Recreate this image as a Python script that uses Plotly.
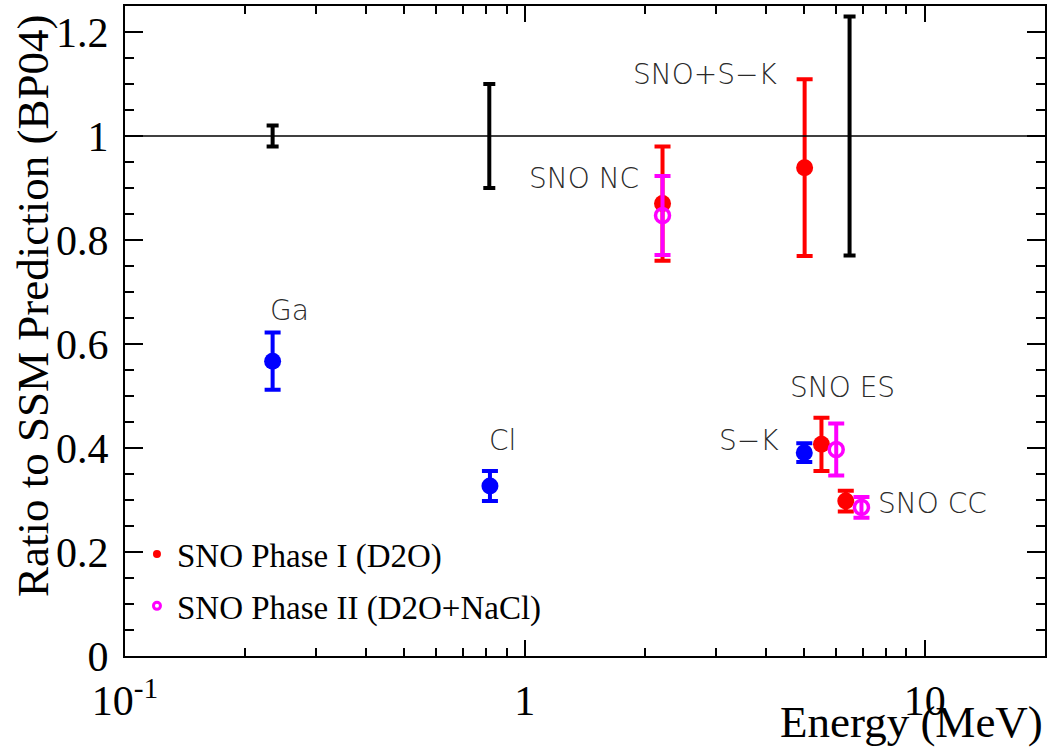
import math
import plotly.graph_objects as go

# ---- data ----
# Black: SSM prediction uncertainty bands (ratio = 1)
ssm_x = [0.234, 0.815, 6.49]
ssm_y = [1.0, 1.0, 1.0]
ssm_err = [0.02, 0.10, 0.23]

# Blue: other experiments (Ga, Cl, S-K)
oth_x = [0.234, 0.818, 5.0]
oth_y = [0.567, 0.327, 0.391]
oth_err = [0.055, 0.029, 0.018]

# Red: SNO Phase I (D2O): NC, SNO+S-K, ES, CC
p1_x = [2.21, 5.01, 5.52, 6.35]
p1_y = [0.870, 0.939, 0.407, 0.298]
p1_err = [0.110, 0.170, 0.051, 0.020]

# Magenta: SNO Phase II (D2O+NaCl): NC, ES, CC
p2_x = [2.21, 6.01, 6.95]
p2_y = [0.847, 0.397, 0.286]
p2_err = [0.076, 0.050, 0.020]

labels = ["Ga", "Cl", "SNO NC", "SNO+S\u2212K", "SNO ES", "S\u2212K", "SNO CC"]
label_x = [0.2586, 0.881, 1.404, 2.818, 6.237, 3.64, 10.45]
label_y = [0.665, 0.415, 0.919, 1.119, 0.517, 0.415, 0.294]

legend_names = ["SNO Phase I (D2O)", "SNO Phase II (D2O+NaCl)"]

x_ticks = [0.1, 1, 10]
x_ticktext = ["10<sup>-1</sup>", "1", "10"]

# ---- figure ----
fig = go.Figure()

fig.add_trace(go.Scatter(
    x=ssm_x, y=ssm_y, mode="markers",
    marker=dict(size=1, color="rgba(0,0,0,0)"),
    error_y=dict(type="data", array=ssm_err, color="black", thickness=4, width=6),
    showlegend=False, hoverinfo="skip"))

fig.add_trace(go.Scatter(
    x=oth_x, y=oth_y, mode="markers",
    marker=dict(size=17, color="#0000ff"),
    error_y=dict(type="data", array=oth_err, color="#0000ff", thickness=4, width=8),
    showlegend=False))

fig.add_trace(go.Scatter(
    x=p1_x, y=p1_y, mode="markers",
    marker=dict(size=17, color="#ff0000"),
    error_y=dict(type="data", array=p1_err, color="#ff0000", thickness=4, width=8),
    showlegend=False))

fig.add_trace(go.Scatter(
    x=p2_x, y=p2_y, mode="markers",
    marker=dict(size=14, color="#ff00ff", symbol="circle-open", line=dict(width=3.5, color="#ff00ff")),
    error_y=dict(type="data", array=p2_err, color="#ff00ff", thickness=4, width=8),
    showlegend=False))

# legend-only entries with small markers
fig.add_trace(go.Scatter(
    x=[None], y=[None], mode="markers", name=legend_names[0], legendgroup="a",
    marker=dict(size=8, color="#ff0000")))
fig.add_trace(go.Scatter(
    x=[None], y=[None], mode="markers", name=legend_names[1], legendgroup="b",
    marker=dict(size=7, color="#ff00ff", symbol="circle-open", line=dict(width=3, color="#ff00ff"))))

# line at ratio = 1
fig.add_shape(type="line", xref="paper", yref="y", x0=0, x1=1, y0=1, y1=1,
              line=dict(color="black", width=1.5))

label_font = dict(family="DejaVu Sans", size=28, color="#2a2a2a", weight=200)
for t, lx, ly in zip(labels, label_x, label_y):
    fig.add_annotation(x=math.log10(lx), y=ly, xref="x", yref="y", text=t,
                       showarrow=False, font=label_font, xanchor="center", yanchor="middle")

title_font = dict(family="Liberation Serif", size=45, color="black")
fig.add_annotation(x=1, y=-0.102, xref="paper", yref="paper", text="Energy (MeV)",
                   showarrow=False, font=title_font, xanchor="right", yanchor="middle")
fig.add_annotation(x=-0.1, y=0.99, xref="paper", yref="paper",
                   text="Ratio to SSM Prediction (BP04)", textangle=-90,
                   showarrow=False, font=title_font, xanchor="center", yanchor="top")

minor_x = [k * 10 ** e for e in (-1, 0, 1) for k in range(2, 10) if k * 10 ** e < 20]

fig.update_xaxes(
    type="log", range=[-1, math.log10(20)], automargin=False,
    tickvals=x_ticks, ticktext=x_ticktext,
    ticks="inside", ticklen=16, tickwidth=1.5, tickcolor="black",
    minor=dict(tickvals=minor_x, ticks="inside", ticklen=8, tickwidth=1.5, tickcolor="black"),
    showline=True, linewidth=2, linecolor="black", mirror="allticks",
    showgrid=False, zeroline=False,
    tickfont=dict(family="Liberation Serif", size=42, color="black"),
    ticklabelstandoff=7)

fig.update_yaxes(
    range=[0, 1.25], dtick=0.2, tick0=0, automargin=False,
    ticks="inside", ticklen=18, tickwidth=1.5, tickcolor="black",
    minor=dict(dtick=0.05, ticks="inside", ticklen=9, tickwidth=1.5, tickcolor="black"),
    showline=True, linewidth=2, linecolor="black", mirror="allticks",
    showgrid=False, zeroline=False,
    tickfont=dict(family="Liberation Serif", size=42, color="black"),
    ticklabelstandoff=6)

fig.update_layout(
    width=1048, height=749,
    margin=dict(l=125, r=3, t=6, b=93),
    paper_bgcolor="white", plot_bgcolor="white",
    legend=dict(x=0.013, y=0.2, xanchor="left", yanchor="top",
                bgcolor="rgba(0,0,0,0)", font=dict(family="Liberation Serif", size=33, color="black"),
                itemwidth=30, tracegroupgap=6),
)

fig.write_html("out.html", config={"displayModeBar": False},
               post_script="document.body.style.margin='0';document.body.style.overflow='hidden';")
